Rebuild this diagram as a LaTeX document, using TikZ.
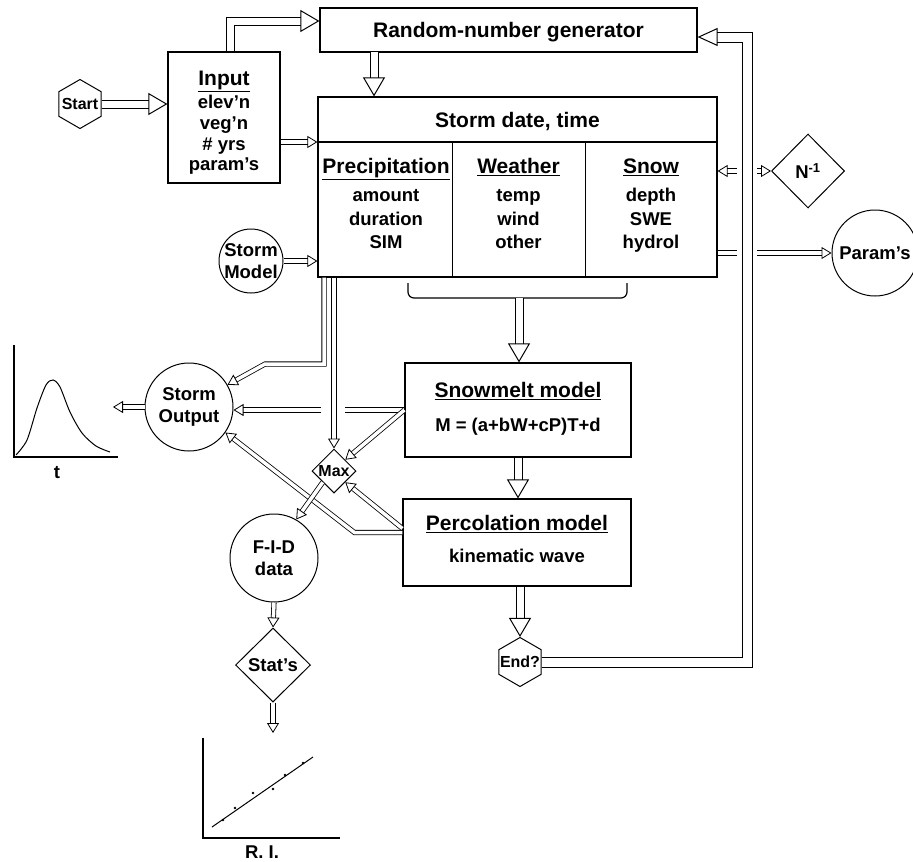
\documentclass[tikz,border=0pt]{standalone}
\usepackage{fontspec}
\setmainfont{Liberation Sans}
\usetikzlibrary{arrows.meta,shapes.geometric}
\newcommand\ttlf{\fontsize{21}{24}\selectfont\bfseries}
\newcommand\itmf{\fontsize{18.5}{22}\selectfont\bfseries}
\newcommand\smlf{\fontsize{16}{18}\selectfont\bfseries}
\begin{document}
\begin{tikzpicture}[x=1pt,y=-1pt,
  box/.style={draw,line width=1.2pt,inner sep=0pt},
  hexa/.style={draw,line width=1pt,regular polygon,regular polygon sides=6,shape border rotate=30,inner sep=0pt,minimum size=49pt,label={[font=\smlf]center:#1}},
  circ/.style={draw,line width=1pt,circle,inner sep=0pt,label={[font=\itmf,align=center]center:#1}},
  dia/.style={draw,line width=1pt,diamond,inner sep=0pt,label={[font=\itmf]center:#1}},
  smalldia/.style={draw,line width=1pt,diamond,inner sep=0pt,label={[font=\smlf]center:#1}},
  ttl/.style={font=\ttlf,anchor=base,inner sep=0pt},
  itm/.style={font=\itmf,anchor=base,inner sep=0pt},
  fatarr/.style={double,double distance=7pt,line width=1pt,-{Triangle[open,length=19pt,width=22pt]}},
  slimarr/.style={double,double distance=3.5pt,line width=0.8pt,-{Triangle[open,length=10pt,width=12pt]}},
  slimline/.style={double,double distance=3.5pt,line width=0.8pt},
  loopline/.style={double,double distance=9pt,line width=1pt,-{Triangle[open,length=20pt,width=18pt]}}]
\useasboundingbox (0,0) rectangle (913,862);
% boxes
\node[box,minimum width=112pt,minimum height=131pt] (input) at (224,117.5) {};
\node[box,minimum width=377pt,minimum height=44pt] (random) at (508.5,30) {};
\node[box,minimum width=399pt,minimum height=180pt] (storm) at (517.5,187) {};
\node[box,minimum width=226pt,minimum height=94pt] (snowmelt) at (518,410) {};
\node[box,minimum width=228pt,minimum height=87pt] (perc) at (517,542.5) {};
\coordinate (hdr) at (0,142);
\draw[line width=1.2pt] (storm.west |- hdr) -- (storm.east |- hdr);
\draw[line width=1pt] (452,142) -- (452,277) (585,142) -- (585,277);
% round and pointed nodes
\node[hexa=Start] (start) at (80,104) {};
\node[hexa=End?] (endq) at (520,662) {};
\node[circ={Storm\\Model},minimum size=64pt] (stormmodel) at (251,261) {};
\node[circ={Storm\\Output},minimum size=88pt] (stormout) at (189,407) {};
\node[circ={F-I-D\\data},minimum size=88pt] (fid) at (274,558) {};
\node[circ={Param's},minimum size=86pt] (params) at (875,253) {};
\node[smalldia=Max,minimum width=44pt,minimum height=44pt] (maxd) at (334,471) {};
\node[dia={Stat's},minimum width=75pt,minimum height=74pt] (stats) at (273,665) {};
\node[dia={N\textsuperscript{-1}},minimum width=73pt,minimum height=74pt] (ninv) at (808,171) {};
% texts
\node[ttl] (rngtxt) at (508.5,37.5) {Random-number generator};
\node[ttl] (sdt) at (517.5,127.5) {Storm date, time};
\node[ttl] (inttl) at (224,85.5) {\underline{Input}};
\foreach \t [count=\i] in {elev'n,veg'n,\# yrs,param's}
  \node[itm] (in\i) at (224,87.9+20.7*\i) {\t};
\node[ttl] (prttl) at (386,173.5) {\underline{Precipitation}};
\node[ttl] (wettl) at (518.5,173.5) {\underline{Weather}};
\node[ttl] (snttl) at (651,173.5) {\underline{Snow}};
\foreach \t [count=\i] in {amount,duration,SIM}
  \node[itm] (pr\i) at (386,178+23.5*\i) {\t};
\foreach \t [count=\i] in {temp,wind,other}
  \node[itm] (we\i) at (518.5,178+23.5*\i) {\t};
\foreach \t [count=\i] in {depth,SWE,hydrol}
  \node[itm] (sn\i) at (651,178+23.5*\i) {\t};
\node[ttl] (smttl) at (518,397.5) {\underline{Snowmelt model}};
\node[itm] (smeq) at (518,431.6) {M = (a+bW+cP)T+d};
\node[ttl] (pcttl) at (517,530.5) {\underline{Percolation model}};
\node[itm] (pckw) at (517,562.6) {kinematic wave};
% bracket under the storm box
\draw[line width=1.2pt,rounded corners=6pt] (408,283) -- (408,298) -- (627,298) -- (627,283);
\coordinate (brk) at (519,298);
% main flow
\draw[fatarr] (start.east) -- (start.east -| input.west);
\draw[fatarr] ([xshift=6pt]input.north) |- ([yshift=9pt]random.west);
\coordinate (rngout) at (374,52);
\draw[fatarr] (rngout) -- (rngout |- storm.north);
\draw[slimarr] (input.east |- hdr) -- (storm.west |- hdr);
\draw[slimarr] (stormmodel.east) -- (stormmodel.east -| storm.west);
\draw[fatarr] (brk) -- (brk |- snowmelt.north);
\draw[fatarr] (snowmelt.south) -- (snowmelt.south |- perc.north);
\draw[fatarr] (perc.south -| endq) -- (endq.north);
\coordinate (loopc) at (747,37);
\draw[loopline] (endq.east) -| (loopc) -- (loopc -| random.east);
% across the loop line
\coordinate (gapl) at (737,0);
\coordinate (gapr) at (757,0);
\draw[slimarr] (ninv.west -| gapl) -- (ninv.west -| storm.east);
\draw[slimarr] (ninv.west -| gapr) -- (ninv.west);
\draw[slimline] (params.west -| storm.east) -- (params.west -| gapl);
\draw[slimarr] (params.west -| gapr) -- (params.west);
% outputs on the left
\coordinate (abend) at (324,364);
\draw[slimarr] (storm.south -| abend) -- (abend) -- ++(-59,0) -- (stormout.30);
\draw[slimarr] (maxd.north |- storm.south) -- (maxd.north);
\coordinate (cgapr) at (345,0);
\coordinate (cgapl) at (321,0);
\draw[slimline] (snowmelt.west) -- (snowmelt.west -| cgapr);
\draw[slimarr] (snowmelt.west -| cgapl) -- (snowmelt.west -| stormout.east);
\draw[slimarr] (snowmelt.west) -- (maxd.north east);
\draw[slimarr] ([yshift=14pt]perc.west) -- (maxd.south east);
\draw[slimarr] ([yshift=10pt]perc.west) -- ++(-48,0) -- (stormout.-35);
\draw[slimarr] (maxd.south west) -- (fid.60);
\coordinate (hydtip) at (113,407);
\draw[slimarr] (stormout.west) -- (hydtip);
\draw[slimarr] (fid.south) -- (stats.north);
\coordinate (ritip) at (273,733);
\draw[slimarr] (stats.south) -- (ritip);
% hydrograph
\draw[line width=1.2pt] (14,345) -- (14,457) -- (118,457);
\draw[line width=1pt] plot[smooth] coordinates {(16,455) (27,440) (37,408) (46,385) (53,380) (60,387) (70,412) (82,433) (96,446) (110,452)};
\node[itm,anchor=center] (tlab) at (57,473) {t};
% frequency plot
\draw[line width=1.2pt] (203,738) -- (203,838) -- (340,838);
\draw[line width=1pt] (212,827) -- (313,757);
\foreach \p in {(223,820),(235,808),(253,793),(273,789),(285,775),(303,763)}
  \fill \p circle (1.3);
\node[itm,anchor=center] (rilab) at (262,852) {R. I.};
\end{tikzpicture}
\end{document}
